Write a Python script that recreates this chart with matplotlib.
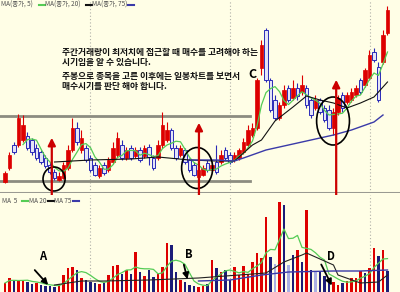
import matplotlib.pyplot as plt
import pandas as pd
from matplotlib.patches import Ellipse
from matplotlib.lines import Line2D

plt.rcParams['font.family'] = ['Noto Sans CJK KR', 'DejaVu Sans']

# daily candles (price units are arbitrary chart units)
opens = [11, 25, 48, 48, 53, 57, 53, 45, 41, 35,
         28, 21, 13, 15, 25, 43, 65, 43, 45, 35,
         28, 17, 28, 23, 31, 38, 48, 35, 45, 37,
         43, 37, 46, 35, 35, 48, 53, 63, 45, 38,
         43, 33, 28, 16, 18, 30, 23, 31, 31, 43,
         38, 33, 35, 41, 48, 58, 65, 125, 163, 113,
         93, 75, 88, 105, 95, 105, 101, 105, 93, 85,
         93, 85, 83, 65, 81, 98, 91, 93, 98, 113,
         108, 115, 141, 126, 131, 160]
closes = [20, 38, 41, 75, 68, 45, 41, 35, 31, 27,
          21, 15, 17, 28, 43, 65, 51, 55, 33, 23,
          18, 25, 20, 33, 45, 55, 35, 43, 35, 43,
          33, 45, 36, 25, 48, 68, 63, 45, 35, 45,
          31, 23, 18, 23, 25, 23, 28, 21, 38, 35,
          31, 38, 43, 51, 63, 65, 113, 148, 113, 83,
          75, 88, 103, 93, 105, 97, 108, 88, 78, 93,
          81, 73, 65, 81, 95, 85, 98, 101, 105, 101,
          123, 138, 133, 93, 158, 183]
highs = [22, 41, 51, 79, 78, 61, 55, 49, 43, 38,
         31, 24, 21, 31, 48, 75, 71, 63, 48, 38,
         31, 28, 31, 36, 51, 61, 53, 46, 48, 46,
         46, 48, 49, 38, 53, 81, 71, 65, 48, 48,
         45, 35, 31, 25, 28, 33, 31, 48, 43, 46,
         41, 41, 45, 55, 68, 70, 115, 153, 165, 115,
         98, 91, 108, 108, 113, 110, 118, 108, 95, 98,
         95, 88, 88, 85, 98, 101, 101, 105, 108, 115,
         125, 143, 145, 131, 163, 187]
lows = [10, 23, 39, 46, 51, 43, 38, 33, 29, 25,
        19, 13, 12, 14, 23, 41, 48, 40, 31, 21,
        17, 15, 18, 21, 29, 36, 33, 33, 33, 35,
        31, 35, 28, 23, 33, 45, 51, 43, 33, 36,
        29, 21, 17, 15, 17, 21, 21, 19, 29, 33,
        29, 31, 33, 39, 46, 56, 63, 118, 111, 81,
        73, 73, 85, 91, 93, 93, 98, 85, 75, 83,
        79, 71, 63, 58, 78, 81, 89, 91, 96, 99,
        106, 113, 131, 91, 129, 158]

volume = [9, 14, 12, 11, 12, 10, 8, 9, 7, 6,
          6, 5, 8, 17, 24, 25, 22, 14, 12, 10,
          9, 8, 9, 17, 26, 27, 18, 22, 18, 40,
          20, 16, 22, 15, 18, 25, 49, 47, 20, 12,
          10, 7, 6, 5, 6, 8, 32, 24, 20, 22,
          12, 25, 17, 26, 18, 30, 39, 34, 75, 35,
          28, 90, 87, 27, 37, 42, 30, 82, 22, 20,
          20, 16, 12, 10, 7, 9, 11, 14, 14, 21,
          19, 24, 44, 36, 42, 21]
vol_kind = ("rrbrrbbrbb" "bbrrrrbrbb" "brbrrrbrbr" "brbbrrrbbr" "bbbrrbrbrb"
            "brrrrrrrrb" "lrblbrbrbl" "bbbrrbrrrr" "brrbrb")

# longer averages
ma20_idx = [11, 19, 28, 34, 41, 47, 51, 55, 57, 60, 64, 67, 70, 73, 76, 79, 82, 85]
ma20_val = [31, 33, 34, 36, 33, 32, 32, 48, 53, 72, 86, 97, 93, 90, 85, 90, 96, 111]
ma75_idx = [41, 47, 51, 53, 58, 63, 68, 73, 77, 82, 84]
ma75_val = [33, 33, 32, 35, 43, 48, 53, 58, 63, 71, 78]
vma20_idx = [11, 17, 22, 32, 43, 52, 58, 62, 66, 67, 69, 73, 74, 79, 83, 85]
vma20_val = [7, 11, 11, 12, 14, 17, 19, 30, 37, 39, 35, 27, 17, 9, 10, 17]
vma75_idx = [43, 50, 57, 63, 73, 79, 85]
vma75_val = [11, 12, 17, 20, 21, 21, 22]

week_lines = [18.9, 50, 81.1]
notes = ["주간거래량이 최저치에 접근할 때 매수를 고려해야 하는",
         "시기임을 알 수 있습니다.",
         "주봉으로 종목을 고른 이후에는 일봉차트를 보면서",
         "매수시기를 판단 해야 합니다."]

BG = '#fffee6'
RED = '#dd0000'
NAVY = '#1c1c78'
BLUE = '#2a2ab8'
GREEN = '#55cc55'
MA75C = '#3a3aa8'

df = pd.DataFrame({'o': opens, 'c': closes, 'h': highs, 'l': lows, 'v': volume})
df['up'] = df['c'] >= df['o']
ma5 = df['c'].rolling(5).mean()
vma5 = df['v'].rolling(5, min_periods=1).mean()

fig = plt.figure(figsize=(4, 2.92), dpi=100, facecolor=BG)
ax = fig.add_axes([0, 99 / 292, 1, 193 / 292], facecolor=BG)
axv = fig.add_axes([0, 0, 1, 97 / 292], facecolor=BG)
for a in (ax, axv):
    a.set_xlim(-1.11, 87.78)
    a.set_xticks([])
    a.set_yticks([])
    for s in a.spines.values():
        s.set_visible(False)
    for w in week_lines:
        a.axvline(w, color='#b0b0a8', lw=0.8, ls=(0, (1, 2)), zorder=0)
ax.set_ylim(0, 193)
axv.set_ylim(0, 97)
ax.axhline(0.5, color='#9a9a92', lw=2.2)

# support / resistance box
ax.plot([-1, 54.5], [77, 77], color='#8c8c80', lw=2, zorder=1)
ax.plot([-1, 54.5], [12, 12], color='#8c8c80', lw=2, zorder=1)

# candles
for i, r in df.iterrows():
    if r['up']:
        ax.vlines(i, r['l'], r['h'], color=RED, lw=0.8, zorder=2)
        ax.bar(i, r['c'] - r['o'], bottom=r['o'], width=0.72, color=RED,
               edgecolor=RED, lw=0.5, zorder=3)
    else:
        ax.vlines(i, r['l'], r['h'], color=BLUE, lw=0.8, zorder=2)
        ax.bar(i, r['o'] - r['c'], bottom=r['c'], width=0.72, color='#e4e4f6',
               edgecolor=BLUE, lw=0.7, zorder=3)

ax.plot(df.index, ma5, color=GREEN, lw=0.9, zorder=4)
ax.plot(ma20_idx, ma20_val, color='#111111', lw=0.8, zorder=4)
ax.plot(ma75_idx, ma75_val, color=MA75C, lw=1.0, zorder=4)

# volume
kind_color = {'r': RED, 'b': NAVY, 'l': '#aab0e6'}
axv.bar(df.index, df['v'], width=0.5,
        color=[kind_color[k] for k in vol_kind], zorder=2)
axv.plot(df.index, vma5, color=GREEN, lw=0.9, zorder=3)
axv.plot(vma20_idx, vma20_val, color='#222222', lw=0.8, zorder=3)
axv.plot(vma75_idx, vma75_val, color=MA75C, lw=1.0, zorder=3)

# legends
tc = '#505050'
legend_top = [(1, 'MA(종가, 5)', 39, GREEN), (45, 'MA(종가, 20)', 86, '#111111'),
              (92, 'MA(종가, 75)', 128, MA75C)]
for x0, txt, lx, col in legend_top:
    fig.text(x0 / 400, 1 - 5 / 292, txt, fontsize=4.6, color=tc, va='center')
    fig.add_artist(Line2D([lx / 400, (lx + 6) / 400], [1 - 5 / 292] * 2,
                          color=col, lw=1.5))
legend_vol = [(2, 'MA  5', 22, GREEN), (29, 'MA 20', 48, '#111111'),
              (54, 'MA 75', 73, MA75C)]
for x0, txt, lx, col in legend_vol:
    fig.text(x0 / 400, 1 - 201 / 292, txt, fontsize=4.6, color=tc, va='center')
    fig.add_artist(Line2D([lx / 400, (lx + 6) / 400], [1 - 201 / 292] * 2,
                          color=col, lw=1.5))

# notes
for y, line in zip([141, 130.5, 117, 106], notes):
    ax.text(12.7, y, line, fontsize=6.3, fontweight='bold', va='center', color='#111111')
ax.text(54.9, 118, 'C', fontsize=9, fontweight='bold', ha='center', va='center')

# ellipses
for cx, cy, w, h in [(10.9, 14, 4.9, 24), (42.7, 25, 6.9, 41), (72.9, 72, 7.3, 48)]:
    ax.add_patch(Ellipse((cx, cy), w, h, fill=False, ec='black', lw=1.2, zorder=6))

# red buy arrows from volume lows up into price
for xi, tip, base in [(10.4, 58, 14), (43.1, 73, 12), (73.6, 116, 7)]:
    ax.annotate('', xy=(xi, tip), xytext=(xi, base), textcoords=axv.transData,
                arrowprops=dict(arrowstyle='-|>', color='#cc0000', lw=1.6,
                                mutation_scale=11),
                annotation_clip=False, zorder=7)

# black arrows on volume
for lab, lx, ly, x0, y0, x1, y1 in [('A', 8.4, 35, 6.2, 24, 10, 5),
                                     ('B', 40.9, 37, 39.6, 30, 40.7, 10),
                                     ('D', 72.4, 36, 70, 30, 72.9, 4)]:
    axv.annotate('', xy=(x1, y1), xytext=(x0, y0),
                 arrowprops=dict(arrowstyle='-|>', color='black', lw=1.3,
                                 mutation_scale=9), zorder=7)
    axv.text(lx, ly, lab, fontsize=8, fontweight='bold', ha='center', va='center')

fig.savefig('out.png', dpi=100, facecolor=BG)
